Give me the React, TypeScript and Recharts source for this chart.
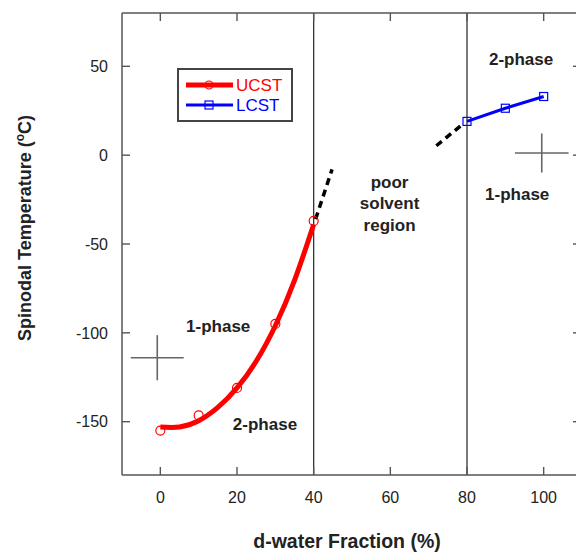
import {
  ComposedChart,
  Line,
  Scatter,
  XAxis,
  YAxis,
  ReferenceLine,
  ReferenceDot,
  ErrorBar,
  Legend,
} from 'recharts';

// axis ticks
const xTicks = [0, 20, 40, 60, 80, 100];
const yTicks = [-150, -100, -50, 0, 50];

// UCST measured points (d-water %, spinodal temp)
const ucstX = [0, 10, 20, 30, 40];
const ucstT = [-155, -146.5, -131, -95, -37];

// UCST fitted curve
const ucstFitX = [0, 5, 10, 15, 20, 25, 30, 35, 40];
const ucstFitT = [-153, -153, -149.5, -142, -131, -116, -96, -70.5, -39];

// LCST measured points
const lcstX = [80, 90, 100];
const lcstT = [19, 26.4, 33];

// dashed extrapolations into the poor solvent region
const dashLowX = [40.5, 44.8];
const dashLowT = [-36, -8];
const dashHighX = [72, 79.2];
const dashHighT = [5.3, 18];

// error crosses
const crossX = [-0.8, 99.5];
const crossT = [-114, 1.2];
const crossErrX = [6.9, 7];
const crossErrT = [12.7, 11];

// region annotations
const noteText = ['1-phase', '2-phase', 'poor', 'solvent', 'region', '2-phase', '1-phase'];
const noteX = [15.1, 27.3, 59.8, 59.8, 59.8, 94.1, 93.1];
const noteT = [-96.1, -151.3, -15.1, -26.9, -39.3, 54.1, -21.8];

const legendNames = ['UCST', 'LCST'];
const legendColors = ['#ff0000', '#0000ff'];

const ucstData = ucstX.map((x, i) => ({ x, t: ucstT[i] }));
const ucstFit = ucstFitX.map((x, i) => ({ x, t: ucstFitT[i] }));
const lcstData = lcstX.map((x, i) => ({ x, t: lcstT[i] }));
const dashLow = dashLowX.map((x, i) => ({ x, t: dashLowT[i] }));
const dashHigh = dashHighX.map((x, i) => ({ x, t: dashHighT[i] }));
const crossData = crossX.map((x, i) => ({ x, t: crossT[i], ex: crossErrX[i], et: crossErrT[i] }));

const FONT = '"Liberation Sans", Arial, Helvetica, sans-serif';
const AXIS = '#555';
const TICK_LEN = 8;
const X_GAP = 17;
const Y_GAP = 14;

const BottomTick = (props: any) => {
  const { x, y, payload } = props;
  return (
    <g>
      <line x1={x} x2={x} y1={y - X_GAP} y2={y - X_GAP - TICK_LEN} stroke={AXIS} strokeWidth={1.4} />
      <text x={x} y={y} dy="0.71em" textAnchor="middle" fill="#222" fontSize={16}>
        {payload.value}
      </text>
    </g>
  );
};

const LeftTick = (props: any) => {
  const { x, y, payload } = props;
  return (
    <g>
      <line x1={x + Y_GAP} x2={x + Y_GAP + TICK_LEN} y1={y} y2={y} stroke={AXIS} strokeWidth={1.4} />
      <text x={x} y={y} dy="0.355em" textAnchor="end" fill="#222" fontSize={16}>
        {payload.value}
      </text>
    </g>
  );
};

const TopTick = (props: any) => {
  const { x, y } = props;
  return <line x1={x} x2={x} y1={y} y2={y + TICK_LEN} stroke={AXIS} strokeWidth={1.4} />;
};

const RightTick = (props: any) => {
  const { x, y } = props;
  return <line x1={x} x2={x - TICK_LEN - 1} y1={y} y2={y} stroke={AXIS} strokeWidth={1.4} />;
};

const XTitle = (props: any) => {
  const { viewBox } = props;
  return (
    <text x={viewBox.x + 225} y={viewBox.y + 73} textAnchor="middle" fontSize={19.5} fontWeight="bold" fill="#222">
      d-water Fraction (%)
    </text>
  );
};

const YTitle = (props: any) => {
  const { viewBox } = props;
  const cx = viewBox.x + 31;
  const cy = viewBox.y + 215;
  return (
    <text x={cx} y={cy} transform={`rotate(-90 ${cx} ${cy})`} textAnchor="middle" fontSize={18} fontWeight="bold" fill="#222">
      <tspan>Spinodal Temperature (</tspan>
      <tspan dy={-7} fontSize={12}>o</tspan>
      <tspan dy={7}>C)</tspan>
    </text>
  );
};

const renderLegend = () => (
  <div style={{ width: 112, height: 50, border: '2px solid #444', background: '#fff' }}>
    <svg width={112} height={50} style={{ display: 'block' }}>
      {legendNames.map((name, i) => {
        const cy = 15 + i * 20;
        return (
          <g key={name}>
            <line x1={7} x2={54} y1={cy} y2={cy} stroke={legendColors[i]} strokeWidth={i === 0 ? 5 : 3} />
            {i === 0 ? (
              <circle cx={30} cy={cy} r={4} fill="none" stroke={legendColors[i]} strokeWidth={1.2} />
            ) : (
              <rect x={26} y={cy - 4} width={8} height={8} fill="none" stroke={legendColors[i]} strokeWidth={1.2} />
            )}
            <text x={57} y={cy + 6} fontSize={17} fill={legendColors[i]} fontFamily={FONT}>
              {name}
            </text>
          </g>
        );
      })}
    </svg>
  </div>
);

const OpenSquare = (props: any) => {
  const { cx, cy } = props;
  if (cx == null || cy == null) return null;
  return <rect x={cx - 4} y={cy - 4} width={8} height={8} fill="none" stroke="#0000ff" strokeWidth={1.2} />;
};

const OpenCircle = (props: any) => {
  const { cx, cy } = props;
  return <circle cx={cx} cy={cy} r={4.5} fill="none" stroke="#ff0000" strokeWidth={1.2} />;
};

const NoteLabel = (text: string) => (props: any) => {
  const { viewBox } = props;
  const x = viewBox.x + viewBox.width / 2;
  const y = viewBox.y + viewBox.height / 2;
  return (
    <text x={x} y={y} dy="0.355em" textAnchor="middle" fontSize={17} fontWeight="bold" fill="#222">
      {text}
    </text>
  );
};

export default function App() {
  return (
    <div
      style={{
        position: 'fixed',
        left: 0,
        top: 0,
        width: 576,
        height: 552,
        overflow: 'hidden',
        background: '#fff',
        fontFamily: FONT,
      }}
    >
      <ComposedChart width={610} height={552} margin={{ top: 12, right: 27, bottom: 0, left: 0 }}>
        <XAxis
          dataKey="x"
          type="number"
          domain={[-10, 110]}
          ticks={xTicks}
          allowDataOverflow
          height={77}
          tickSize={0}
          tickMargin={X_GAP}
          tickLine={false}
          tick={<BottomTick />}
          stroke={AXIS}
          strokeWidth={1.5}
          label={<XTitle />}
        />
        <XAxis
          xAxisId="top"
          orientation="top"
          dataKey="x"
          type="number"
          domain={[-10, 110]}
          ticks={xTicks}
          allowDataOverflow
          height={1}
          tickSize={0}
          tickMargin={0}
          tickLine={false}
          tick={<TopTick />}
          stroke={AXIS}
          strokeWidth={1.5}
        />
        <YAxis
          dataKey="t"
          type="number"
          domain={[-180, 80]}
          ticks={yTicks}
          allowDataOverflow
          width={122}
          tickSize={0}
          tickMargin={Y_GAP}
          tickLine={false}
          tick={<LeftTick />}
          stroke={AXIS}
          strokeWidth={1.5}
          label={<YTitle />}
        />
        <YAxis
          yAxisId="right"
          orientation="right"
          type="number"
          domain={[-180, 80]}
          ticks={yTicks}
          allowDataOverflow
          width={1}
          tickSize={0}
          tickMargin={0}
          tickLine={false}
          tick={<RightTick />}
          stroke={AXIS}
          strokeWidth={1.5}
        />
        <ReferenceLine x={40} stroke="#333" strokeWidth={1.3} />
        <ReferenceLine x={80} stroke="#333" strokeWidth={1.3} />

        <Line
          data={ucstFit}
          dataKey="t"
          type="natural"
          stroke="#ff0000"
          strokeWidth={5}
          dot={false}
          activeDot={false}
          isAnimationActive={false}
        />
        <Line
          data={dashLow}
          dataKey="t"
          type="linear"
          stroke="#000"
          strokeWidth={3.5}
          strokeDasharray="7 5"
          dot={false}
          activeDot={false}
          isAnimationActive={false}
        />
        <Line
          data={dashHigh}
          dataKey="t"
          type="linear"
          stroke="#000"
          strokeWidth={3.5}
          strokeDasharray="7 5"
          dot={false}
          activeDot={false}
          isAnimationActive={false}
        />
        <Line
          data={lcstData}
          dataKey="t"
          type="linear"
          stroke="#0000ff"
          strokeWidth={3}
          dot={<OpenSquare />}
          activeDot={false}
          isAnimationActive={false}
        />
        <Scatter data={ucstData} dataKey="t" shape={<OpenCircle />} isAnimationActive={false} />
        <Scatter data={crossData} dataKey="t" shape={() => <g />} isAnimationActive={false}>
          <ErrorBar dataKey="ex" direction="x" width={0} stroke="#666" strokeWidth={1.6} />
          <ErrorBar dataKey="et" direction="y" width={0} stroke="#666" strokeWidth={1.6} />
        </Scatter>

        {noteText.map((text, i) => (
          <ReferenceDot
            key={i}
            x={noteX[i]}
            y={noteT[i]}
            r={0}
            stroke="none"
            fill="none"
            label={NoteLabel(text)}
          />
        ))}

        <Legend
          layout="vertical"
          align="center"
          verticalAlign="middle"
          content={renderLegend}
          wrapperStyle={{ left: 177, top: 68, width: 'auto', height: 'auto' }}
        />
      </ComposedChart>
    </div>
  );
}
